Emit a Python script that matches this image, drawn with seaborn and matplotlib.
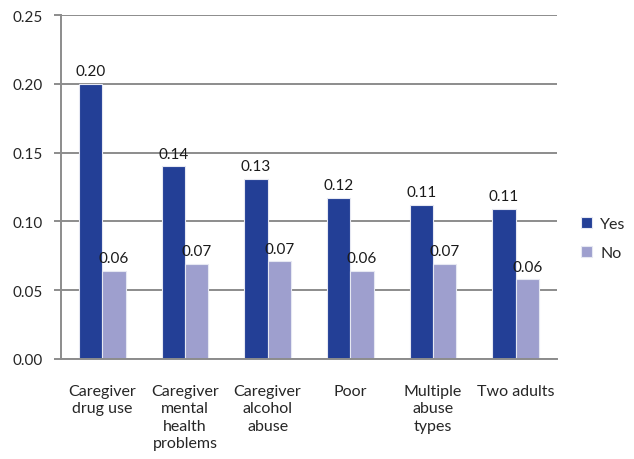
import matplotlib
matplotlib.use("Agg")
import pandas as pd
import seaborn as sns
from matplotlib import pyplot

categories = ["Caregiver\ndrug use", "Caregiver\nmental\nhealth\nproblems", "Caregiver\nalcohol\nabuse",
              "Poor", "Multiple\nabuse\ntypes", "Two adults"]
yes_values = [0.200, 0.140, 0.131, 0.117, 0.112, 0.109]
no_values = [0.064, 0.069, 0.071, 0.064, 0.069, 0.058]
y_ticks = [0.00, 0.05, 0.10, 0.15, 0.20, 0.25]

df = pd.DataFrame({
    "category": categories * 2,
    "value": yes_values + no_values,
    "group": ["Yes"] * len(categories) + ["No"] * len(categories),
})

sns.set_style("white")
pyplot.rcParams["font.family"] = ["Lato", "DejaVu Sans"]

fig = pyplot.figure(figsize=(6.34, 4.60), dpi=100)
ax = fig.add_axes([0.0962, 0.2174, 0.7822, 0.7478])
sns.barplot(data=df, x="category", y="value", hue="group", ax=ax,
            palette={"Yes": "#233f96", "No": "#9e9fce"},
            width=0.565, gap=0, edgecolor="#e6e8f2", linewidth=0.8, saturation=1)

for c in ax.containers:
    ax.bar_label(c, fmt="%.2f", padding=4, fontsize=11, color="#1a1a1a")

ax.set_ylim(0, 0.25)
ax.set_xlim(-0.5, len(categories) - 0.5)
ax.set_yticks(y_ticks)
ax.set_yticklabels(["%.2f" % t for t in y_ticks], fontsize=11)
ax.yaxis.grid(True, color="#8c8c8c", linewidth=1.4)
ax.set_axisbelow(True)
ax.set_xlabel("")
ax.set_ylabel("")

ax.set_xticks(range(len(categories)))
ax.set_xticklabels(categories, fontsize=11.5, va="top", linespacing=1.3)
ax.tick_params(axis="x", length=0, pad=18)
ax.set_xticks([i - 0.5 for i in range(len(categories) + 1)], minor=True)
ax.tick_params(axis="x", which="minor", length=5, width=1.4, color="#8c8c8c", direction="out")
ax.tick_params(axis="y", length=5, width=1.4, color="#8c8c8c", left=True, direction="out", pad=8)

for s in ["top", "right"]:
    ax.spines[s].set_visible(False)
for s in ["left", "bottom"]:
    ax.spines[s].set_color("#8c8c8c")
    ax.spines[s].set_linewidth(1.4)

ax.legend(title=None, frameon=False, loc="center left", bbox_to_anchor=(1.02, 0.35),
          fontsize=11.5, handlelength=0.7, handleheight=0.7, handletextpad=0.5, labelspacing=0.95)

pyplot.savefig("out.png", dpi=100)
